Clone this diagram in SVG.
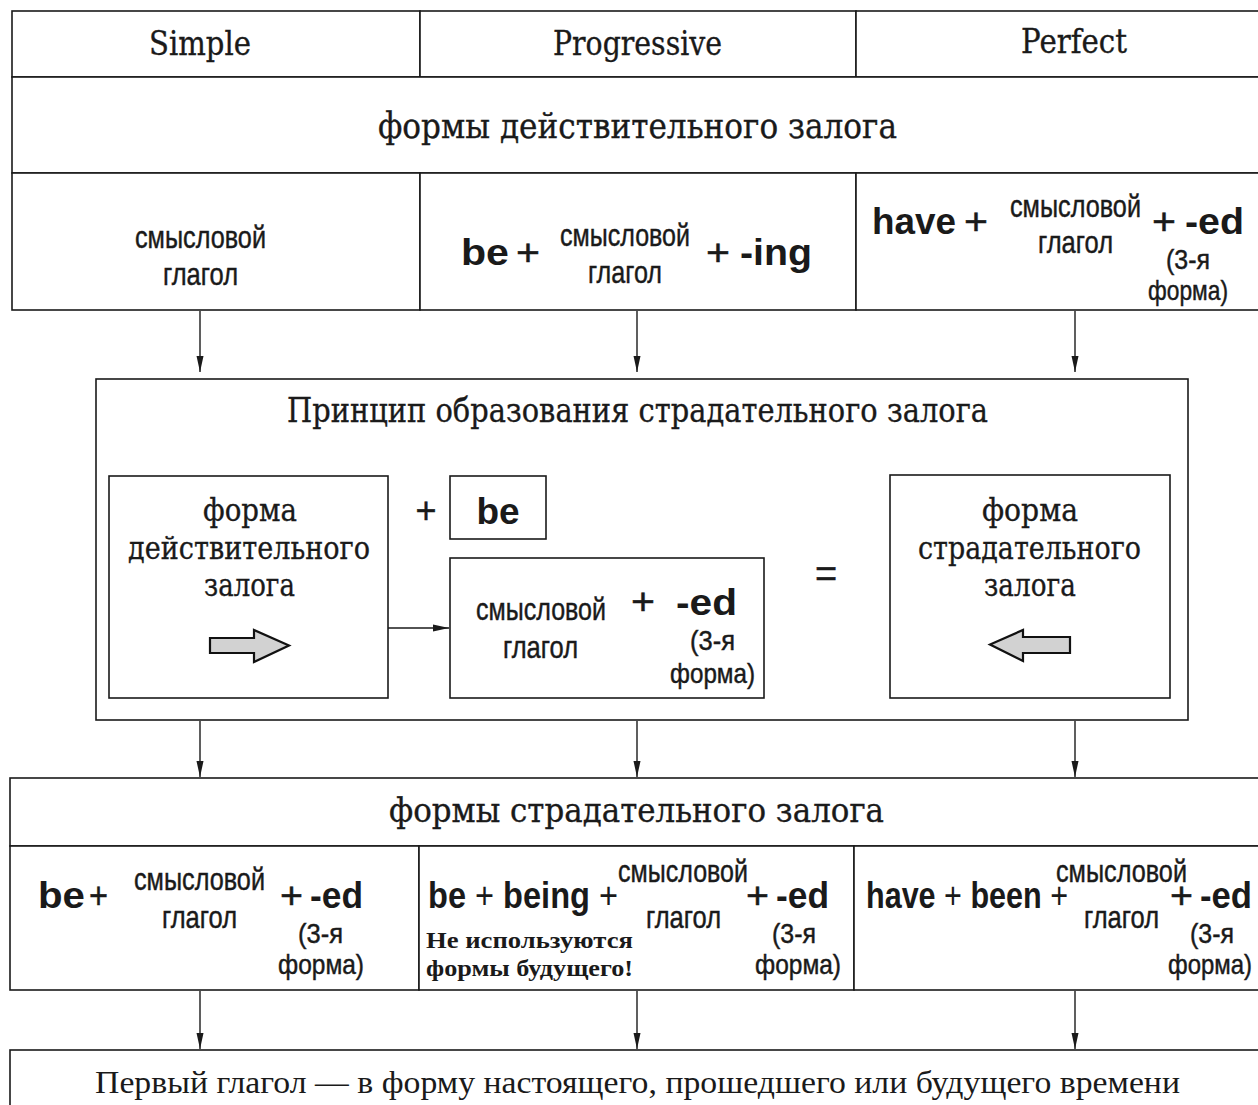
<svg xmlns="http://www.w3.org/2000/svg" width="1258" height="1105" viewBox="0 0 1258 1105">
<style>
rect.c{fill:#fff;stroke:#1a1a1a;stroke-width:1.6}
.s{font-family:"DejaVu Serif","Liberation Serif",serif;fill:#1a1a1a;stroke:#1a1a1a;stroke-width:0.35}
.t{font-family:"Liberation Serif",serif;fill:#1a1a1a}
.n{font-family:"Liberation Sans",Arial,sans-serif;fill:#1a1a1a;stroke:#1a1a1a;stroke-width:0.45}
.b{font-family:"Liberation Sans",Arial,sans-serif;font-weight:bold;fill:#1a1a1a}
.con line{stroke:#1a1a1a;stroke-width:1.4}
.blk{fill:#d2d2d2;stroke:#111;stroke-width:2.2;stroke-linejoin:miter}
</style>
<defs>
<marker id="ah" markerUnits="userSpaceOnUse" markerWidth="16" markerHeight="8" refX="16" refY="4" orient="auto">
<path d="M0,0.5 L16,4 L0,7.5 z" fill="#1a1a1a"/>
</marker>
</defs>
<rect width="1258" height="1105" fill="#fff"/>

<g id="head-simple"><rect class="c" x="12" y="11" width="408" height="66"/>
<text class="s" x="149" y="55" font-size="33" textLength="102" lengthAdjust="spacingAndGlyphs">Simple</text></g>
<g id="head-progressive"><rect class="c" x="420" y="11" width="436" height="66"/>
<text class="s" x="553" y="55" font-size="33" textLength="169" lengthAdjust="spacingAndGlyphs">Progressive</text></g>
<g id="head-perfect"><rect class="c" x="856" y="11" width="420" height="66"/>
<text class="s" x="1021" y="53" font-size="33" textLength="106" lengthAdjust="spacingAndGlyphs">Perfect</text></g>

<g id="row-active"><rect class="c" x="12" y="77" width="1266" height="96"/>
<text class="s" x="378" y="138" font-size="36" textLength="519" lengthAdjust="spacingAndGlyphs">формы действительного залога</text></g>

<g id="active-simple"><rect class="c" x="12" y="173" width="408" height="137"/>
<text class="n" x="135" y="248" font-size="32" textLength="131" lengthAdjust="spacingAndGlyphs">смысловой</text>
<text class="n" x="163" y="285" font-size="32" textLength="75" lengthAdjust="spacingAndGlyphs">глагол</text></g>
<g id="active-progressive"><rect class="c" x="420" y="173" width="436" height="137"/>
<text class="b" x="461" y="265" font-size="37" textLength="48" lengthAdjust="spacingAndGlyphs">be</text>
<text class="n" x="516" y="265" font-size="37" textLength="24" lengthAdjust="spacingAndGlyphs">+</text>
<text class="n" x="560" y="246" font-size="32" textLength="130" lengthAdjust="spacingAndGlyphs">смысловой</text>
<text class="n" x="588" y="283" font-size="32" textLength="74" lengthAdjust="spacingAndGlyphs">глагол</text>
<text class="n" x="706" y="265" font-size="37" textLength="24" lengthAdjust="spacingAndGlyphs">+</text>
<text class="b" x="740" y="265" font-size="37" textLength="72" lengthAdjust="spacingAndGlyphs">-ing</text></g>
<g id="active-perfect"><rect class="c" x="856" y="173" width="420" height="137"/>
<text class="b" x="872" y="234" font-size="37" textLength="84" lengthAdjust="spacingAndGlyphs">have</text>
<text class="n" x="964" y="234" font-size="37" textLength="24" lengthAdjust="spacingAndGlyphs">+</text>
<text class="n" x="1010" y="217" font-size="32" textLength="131" lengthAdjust="spacingAndGlyphs">смысловой</text>
<text class="n" x="1038" y="253" font-size="32" textLength="75" lengthAdjust="spacingAndGlyphs">глагол</text>
<text class="n" x="1152" y="234" font-size="37" textLength="24" lengthAdjust="spacingAndGlyphs">+</text>
<text class="b" x="1185" y="234" font-size="37" textLength="59" lengthAdjust="spacingAndGlyphs">-ed</text>
<text class="n" x="1166" y="269" font-size="28" textLength="44" lengthAdjust="spacingAndGlyphs">(3-я</text>
<text class="n" x="1148" y="300" font-size="28" textLength="80" lengthAdjust="spacingAndGlyphs">форма)</text></g>

<g id="principle"><rect class="c" x="96" y="379" width="1092" height="341"/>
<text class="s" x="287" y="422" font-size="33" textLength="701" lengthAdjust="spacingAndGlyphs">Принцип образования страдательного залога</text></g>

<g id="box-active"><rect class="c" x="109" y="476" width="279" height="222"/>
<text class="s" x="203" y="521" font-size="32" textLength="94" lengthAdjust="spacingAndGlyphs">форма</text>
<text class="s" x="128" y="559" font-size="32" textLength="242" lengthAdjust="spacingAndGlyphs">действительного</text>
<text class="s" x="204" y="596" font-size="32" textLength="91" lengthAdjust="spacingAndGlyphs">залога</text>
<polygon class="blk" points="210,638 254,638 254,630 289,645.5 254,662 254,653 210,653"/></g>

<g id="plus-sign"><text class="n" x="426" y="523" font-size="36" text-anchor="middle">+</text></g>

<g id="box-be"><rect class="c" x="450" y="476" width="96" height="63"/>
<text class="b" x="498" y="524" font-size="37" text-anchor="middle">be</text></g>

<g id="box-participle"><rect class="c" x="450" y="558" width="314" height="140"/>
<text class="n" x="476" y="620" font-size="32" textLength="130" lengthAdjust="spacingAndGlyphs">смысловой</text>
<text class="n" x="503" y="658" font-size="32" textLength="75" lengthAdjust="spacingAndGlyphs">глагол</text>
<text class="n" x="631" y="614" font-size="37" textLength="24" lengthAdjust="spacingAndGlyphs">+</text>
<text class="b" x="676" y="615" font-size="37" textLength="61" lengthAdjust="spacingAndGlyphs">-ed</text>
<text class="n" x="690" y="650" font-size="28" textLength="45" lengthAdjust="spacingAndGlyphs">(3-я</text>
<text class="n" x="670" y="683" font-size="28" textLength="85" lengthAdjust="spacingAndGlyphs">форма)</text></g>

<g id="equals-sign"><text class="n" x="826" y="587" font-size="38" text-anchor="middle">=</text></g>

<g id="box-passive"><rect class="c" x="890" y="475" width="280" height="223"/>
<text class="s" x="982" y="521" font-size="32" textLength="96" lengthAdjust="spacingAndGlyphs">форма</text>
<text class="s" x="918" y="559" font-size="32" textLength="223" lengthAdjust="spacingAndGlyphs">страдательного</text>
<text class="s" x="984" y="596" font-size="32" textLength="92" lengthAdjust="spacingAndGlyphs">залога</text>
<polygon class="blk" points="1070,637 1023,637 1023,630 990,644.5 1023,661 1023,653 1070,653"/></g>

<g id="row-passive"><rect class="c" x="10" y="778" width="1268" height="68"/>
<text class="s" x="389" y="822" font-size="33" textLength="495" lengthAdjust="spacingAndGlyphs">формы страдательного залога</text></g>

<g id="passive-simple"><rect class="c" x="10" y="846" width="409" height="144"/>
<text class="b" x="38" y="908" font-size="36" textLength="47" lengthAdjust="spacingAndGlyphs">be</text>
<text class="n" x="89" y="908" font-size="36" textLength="19" lengthAdjust="spacingAndGlyphs">+</text>
<text class="n" x="134" y="890" font-size="32" textLength="131" lengthAdjust="spacingAndGlyphs">смысловой</text>
<text class="n" x="162" y="928" font-size="32" textLength="75" lengthAdjust="spacingAndGlyphs">глагол</text>
<text class="n" x="280" y="908" font-size="36" textLength="23" lengthAdjust="spacingAndGlyphs">+</text>
<text class="b" x="310" y="908" font-size="36" textLength="53" lengthAdjust="spacingAndGlyphs">-ed</text>
<text class="n" x="298" y="943" font-size="28" textLength="45" lengthAdjust="spacingAndGlyphs">(3-я</text>
<text class="n" x="278" y="974" font-size="28" textLength="86" lengthAdjust="spacingAndGlyphs">форма)</text></g>

<g id="passive-progressive"><rect class="c" x="419" y="846" width="435" height="144"/>
<text class="b" x="428" y="908" font-size="36" textLength="190" lengthAdjust="spacingAndGlyphs">be <tspan font-weight="normal">+</tspan> being <tspan font-weight="normal">+</tspan></text>
<text class="n" x="618" y="882" font-size="32" textLength="130" lengthAdjust="spacingAndGlyphs">смысловой</text>
<text class="n" x="646" y="928" font-size="32" textLength="75" lengthAdjust="spacingAndGlyphs">глагол</text>
<text class="n" x="746" y="908" font-size="36" textLength="23" lengthAdjust="spacingAndGlyphs">+</text>
<text class="b" x="776" y="908" font-size="36" textLength="53" lengthAdjust="spacingAndGlyphs">-ed</text>
<text class="n" x="772" y="943" font-size="28" textLength="44" lengthAdjust="spacingAndGlyphs">(3-я</text>
<text class="n" x="755" y="974" font-size="28" textLength="86" lengthAdjust="spacingAndGlyphs">форма)</text>
<text class="t" x="426" y="948" font-size="24" font-weight="bold" textLength="207" lengthAdjust="spacingAndGlyphs">Не используются</text>
<text class="t" x="426" y="976" font-size="24" font-weight="bold" textLength="207" lengthAdjust="spacingAndGlyphs">формы будущего!</text></g>

<g id="passive-perfect"><rect class="c" x="854" y="846" width="420" height="144"/>
<text class="b" x="866" y="908" font-size="36" textLength="202" lengthAdjust="spacingAndGlyphs">have <tspan font-weight="normal">+</tspan> been <tspan font-weight="normal">+</tspan></text>
<text class="n" x="1056" y="882" font-size="32" textLength="131" lengthAdjust="spacingAndGlyphs">смысловой</text>
<text class="n" x="1084" y="928" font-size="32" textLength="75" lengthAdjust="spacingAndGlyphs">глагол</text>
<text class="n" x="1170" y="908" font-size="36" textLength="23" lengthAdjust="spacingAndGlyphs">+</text>
<text class="b" x="1200" y="908" font-size="36" textLength="52" lengthAdjust="spacingAndGlyphs">-ed</text>
<text class="n" x="1190" y="943" font-size="28" textLength="44" lengthAdjust="spacingAndGlyphs">(3-я</text>
<text class="n" x="1168" y="974" font-size="28" textLength="84" lengthAdjust="spacingAndGlyphs">форма)</text></g>

<g id="row-tense"><rect class="c" x="10" y="1050" width="1268" height="70"/>
<text class="t" x="95" y="1093" font-size="32" textLength="1085" lengthAdjust="spacingAndGlyphs">Первый глагол — в форму настоящего, прошедшего или будущего времени</text></g>

<g class="con" id="connectors">
<line x1="200" y1="311" x2="200" y2="372" marker-end="url(#ah)"/>
<line x1="637" y1="311" x2="637" y2="372" marker-end="url(#ah)"/>
<line x1="1075" y1="311" x2="1075" y2="372" marker-end="url(#ah)"/>
<line x1="388" y1="628" x2="449" y2="628" marker-end="url(#ah)"/>
<line x1="200" y1="721" x2="200" y2="777" marker-end="url(#ah)"/>
<line x1="637" y1="721" x2="637" y2="777" marker-end="url(#ah)"/>
<line x1="1075" y1="721" x2="1075" y2="777" marker-end="url(#ah)"/>
<line x1="200" y1="991" x2="200" y2="1049" marker-end="url(#ah)"/>
<line x1="637" y1="991" x2="637" y2="1049" marker-end="url(#ah)"/>
<line x1="1075" y1="991" x2="1075" y2="1049" marker-end="url(#ah)"/>
</g>
</svg>
